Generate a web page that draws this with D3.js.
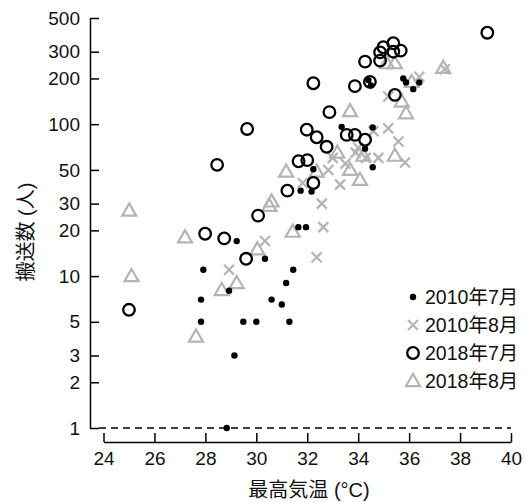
<!DOCTYPE html>
<html>
<head>
<meta charset="utf-8">
<script src="https://cdn.jsdelivr.net/npm/d3@7"></script>
<style>
  html, body { margin: 0; padding: 0; background: #fff; }
  svg text { font-family: "Liberation Sans", Arial, Helvetica, "Noto Sans CJK JP", sans-serif; }
</style>
</head>
<body>
<svg id="chart" width="526" height="502"></svg>
<script>
// Daily maximum temperature (°C) vs. number of people transported, per month.
const jul2010 = [
  [28.84, 1], [29.14, 3], [27.83, 5], [27.83, 7], [27.92, 11], [28.93, 8], [29.23, 17],
  [29.49, 5], [30.34, 13], [31.45, 11], [31.17, 9], [31.65, 21], [31.95, 21], [31.74, 36.5],
  [32.17, 36], [30.6, 7], [30.0, 5], [31.0, 6.5], [31.3, 5], [32.24, 50.5], [34.57, 52],
  [34.27, 69], [35.77, 200], [35.88, 188], [36.16, 170], [36.4, 188], [33.35, 96],
  [34.57, 95], [34.4, 195], [34.5, 180]
];
const aug2010 = [
  [28.93, 11], [30.34, 17], [31.82, 41], [32.57, 30], [32.63, 21], [32.37, 13.3], [33.29, 40],
  [32.83, 50], [35.58, 77], [35.84, 56], [34.79, 60], [35.18, 152], [35.18, 94], [36.4, 205],
  [37.4, 230], [33.5, 55], [34.0, 70], [34.3, 60], [33.9, 65], [34.6, 90], [33.0, 60]
];
const jul2018 = [
  [25.0, 6], [28.46, 54], [27.99, 19], [28.74, 17.7], [29.6, 13], [30.07, 25], [29.64, 93],
  [31.22, 36.5], [31.66, 57], [32.0, 58], [32.24, 41], [31.98, 92], [32.37, 82], [32.76, 71],
  [33.55, 85], [33.87, 85], [34.27, 79], [32.87, 120], [32.24, 186], [33.87, 178], [34.46, 190],
  [35.44, 156], [34.27, 258], [34.86, 262], [34.86, 297], [34.99, 321], [35.38, 341],
  [35.38, 300], [35.67, 305], [39.07, 400]
];
const aug2018 = [
  [25.01, 27], [25.1, 10], [27.2, 18], [27.63, 4], [28.64, 8.1], [29.23, 9], [30.04, 15],
  [30.51, 29], [30.6, 31], [31.17, 48.7], [31.43, 19.6], [32.37, 48.7], [33.18, 65],
  [33.68, 50], [34.07, 43], [34.2, 62], [35.44, 62], [35.12, 252], [35.44, 252], [37.34, 235],
  [36.1, 190], [35.71, 141], [35.88, 118], [33.68, 122]
];
const xTicks = [24, 26, 28, 30, 32, 34, 36, 38, 40];
const yTicks = [1, 2, 3, 5, 10, 20, 30, 50, 100, 200, 300, 500];
const legendLabels = ["2010年7月", "2010年8月", "2018年7月", "2018年8月"];

const svg = d3.select("#chart");
const x = d3.scaleLinear().domain([24, 40]).range([103.5, 511]);
const y = d3.scaleLog().domain([1, 500]).range([428, 18]);

const gray = "#b4b4b4";

// Axes: ticks point inward toward the plot
const xAxis = svg.append("g")
  .attr("transform", "translate(0,442)")
  .call(d3.axisBottom(x).tickValues(xTicks).tickFormat(d3.format("d"))
    .tickSizeInner(-9).tickSizeOuter(0).tickPadding(10));
const yAxis = svg.append("g")
  .attr("transform", "translate(90,0)")
  .call(d3.axisLeft(y).tickValues(yTicks).tickFormat(d3.format("d"))
    .tickSizeInner(-9).tickSizeOuter(0).tickPadding(10));
[xAxis, yAxis].forEach(g => {
  g.select(".domain").attr("stroke", "#000").attr("stroke-width", 1.5);
  g.selectAll(".tick line").attr("stroke", "#000").attr("stroke-width", 1.5);
  g.selectAll(".tick text").attr("fill", "#111").style("font-size", "19px");
});

// Reference line at one person
svg.append("line")
  .attr("x1", 99).attr("x2", 511)
  .attr("y1", y(1)).attr("y2", y(1))
  .attr("stroke", "#000").attr("stroke-width", 1.3)
  .attr("stroke-dasharray", "7,5");

// Axis titles
svg.append("text")
  .attr("x", 309).attr("y", 497)
  .attr("text-anchor", "middle")
  .style("font-size", "20px").attr("fill", "#111")
  .text("最高気温 (°C)");
svg.append("text")
  .attr("transform", "translate(33,232) rotate(-90)")
  .attr("text-anchor", "middle")
  .style("font-size", "20px").attr("fill", "#111")
  .text("搬送数 (人)");

// Marker drawers
const tri = d3.symbol().type(d3.symbolTriangle).size(85);
function drawDots(g, data) {
  g.selectAll("circle.dot").data(data).join("circle").attr("class", "dot")
    .attr("cx", d => x(d[0])).attr("cy", d => y(d[1])).attr("r", 3.2).attr("fill", "#000");
}
function drawCross(g, data) {
  const s = 5;
  g.selectAll("path.cross").data(data).join("path").attr("class", "cross")
    .attr("d", d => {
      const cx = x(d[0]), cy = y(d[1]);
      return `M${cx - s},${cy - s}L${cx + s},${cy + s}M${cx - s},${cy + s}L${cx + s},${cy - s}`;
    })
    .attr("stroke", gray).attr("stroke-width", 2.2).attr("fill", "none");
}
function drawRings(g, data) {
  g.selectAll("circle.ring").data(data).join("circle").attr("class", "ring")
    .attr("cx", d => x(d[0])).attr("cy", d => y(d[1])).attr("r", 5.8)
    .attr("fill", "none").attr("stroke", "#000").attr("stroke-width", 2.3);
}
function drawTris(g, data) {
  g.selectAll("path.tri").data(data).join("path").attr("class", "tri")
    .attr("transform", d => `translate(${x(d[0])},${y(d[1]) + 1})`)
    .attr("d", tri).attr("fill", "none").attr("stroke", gray).attr("stroke-width", 2.2);
}

const plot = svg.append("g");
drawTris(plot.append("g"), aug2018);
drawCross(plot.append("g"), aug2010);
drawRings(plot.append("g"), jul2018);
drawDots(plot.append("g"), jul2010);

// Legend
const legend = svg.append("g");
const rowY = [297, 325, 353, 381];
legendLabels.forEach((lab, i) => {
  legend.append("text").attr("x", 425).attr("y", rowY[i] + 7)
    .style("font-size", "19.5px").attr("fill", "#111").text(lab);
});
// legend keys share the marker drawers through the inverted scales
const keyX = x.invert(413);
drawDots(legend.append("g"), [[keyX, y.invert(rowY[0])]]);
drawCross(legend.append("g"), [[keyX, y.invert(rowY[1])]]);
drawRings(legend.append("g"), [[keyX, y.invert(rowY[2])]]);
drawTris(legend.append("g"), [[keyX, y.invert(rowY[3])]]);
</script>
</body>
</html>
